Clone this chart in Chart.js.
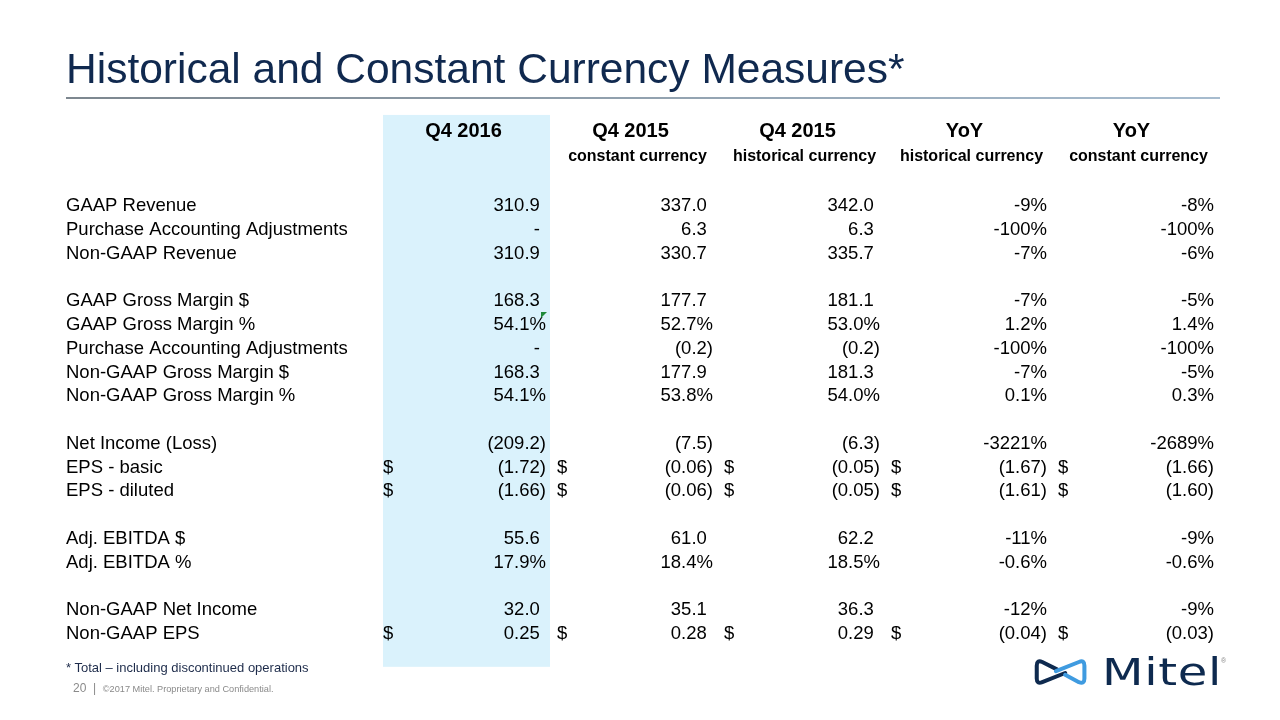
<!DOCTYPE html>
<html><head><meta charset="utf-8">
<script src="https://cdn.jsdelivr.net/npm/chart.js"></script>
<style>
html,body{margin:0;padding:0;background:#fff;width:1280px;height:720px;overflow:hidden;font-family:"Liberation Sans",Arial,sans-serif;}
#c{position:absolute;left:0;top:0;width:1280px;height:720px;}
#title{position:absolute;left:66px;top:48px;font-size:42.5px;line-height:1;color:#10294f;white-space:nowrap;}
#rule{position:absolute;left:66px;top:97px;width:1154px;height:2px;background:linear-gradient(to right,#7d878f,#a7bccf);}
#foot{position:absolute;left:66px;top:661px;font-size:13px;line-height:1;color:#1d2b4a;white-space:nowrap;}
#page{position:absolute;left:73px;top:682px;font-size:12px;line-height:1;color:#8a8a8a;white-space:nowrap;}
#page span{font-size:9.2px;}
#logotext{position:absolute;left:1102px;top:654px;font-family:"DejaVu Sans",sans-serif;font-size:37px;line-height:1;color:#0e2a4f;letter-spacing:0.5px;white-space:nowrap;transform:scaleX(1.3);transform-origin:0 0;}
#reg{position:absolute;left:1221px;top:657px;font-size:7px;line-height:1;color:#888;}
</style></head>
<body>
<canvas id="c" width="1280" height="720"></canvas>
<div id="title">Historical and Constant Currency Measures*</div>
<div id="rule"></div>
<div id="foot">* Total – including discontinued operations</div>
<div id="page">20 &nbsp;|&nbsp; <span>©2017 Mitel. Proprietary and Confidential.</span></div>
<svg viewBox="0 0 60 30" style="left:1034px;top:659px;width:55px;height:28px;position:absolute">
  <path d="M 25 11 L 9 3 Q 3 0.5 3 7 L 3 21 Q 3 27.5 9 25 L 34 15" fill="none" stroke="#0e2a4f" stroke-width="4.4" stroke-linecap="round" stroke-linejoin="round"/>
  <path d="M 34 17 L 49 25 Q 55 27.5 55 21 L 55 7 Q 55 0.5 49 3 L 24 13" fill="none" stroke="#3f9be0" stroke-width="4.4" stroke-linecap="round" stroke-linejoin="round"/>
</svg>
<div id="logotext">Mitel</div>
<div id="reg">®</div>
<script>
// ---- data ----
const rowLabels = [
  'GAAP Revenue','Purchase Accounting Adjustments','Non-GAAP Revenue','',
  'GAAP Gross Margin $','GAAP Gross Margin %','Purchase Accounting Adjustments','Non-GAAP Gross Margin $','Non-GAAP Gross Margin %','',
  'Net Income (Loss)','EPS - basic','EPS - diluted','',
  'Adj. EBITDA $','Adj. EBITDA %','',
  'Non-GAAP Net Income','Non-GAAP EPS'
];
const colHeads = ['Q4 2016','Q4 2015','Q4 2015','YoY','YoY'];
const colSubs  = ['','constant currency','historical currency','historical currency','constant currency'];
const q4_2016     = ['310.9','-','310.9','','168.3','54.1%','-','168.3','54.1%','','(209.2)','(1.72)','(1.66)','','55.6','17.9%','','32.0','0.25'];
const q4_2015_cc  = ['337.0','6.3','330.7','','177.7','52.7%','(0.2)','177.9','53.8%','','(7.5)','(0.06)','(0.06)','','61.0','18.4%','','35.1','0.28'];
const q4_2015_hc  = ['342.0','6.3','335.7','','181.1','53.0%','(0.2)','181.3','54.0%','','(6.3)','(0.05)','(0.05)','','62.2','18.5%','','36.3','0.29'];
const yoy_hc      = ['-9%','-100%','-7%','','-7%','1.2%','-100%','-7%','0.1%','','-3221%','(1.67)','(1.61)','','-11%','-0.6%','','-12%','(0.04)'];
const yoy_cc      = ['-8%','-100%','-6%','','-5%','1.4%','-100%','-5%','0.3%','','-2689%','(1.66)','(1.60)','','-9%','-0.6%','','-9%','(0.03)'];
const dollarRows  = ['EPS - basic','EPS - diluted','Non-GAAP EPS'];
const columns = [q4_2016, q4_2015_cc, q4_2015_hc, yoy_hc, yoy_cc];

const FONT = '"Liberation Sans", Arial, sans-serif';

const datasets = columns.map((col, ci) => ({
  label: colHeads[ci] + ' ' + colSubs[ci],
  data: col.map((v, ri) => v === '' ? null : {x: ci, y: ri, v: v}).filter(d => d),
  showLine: false, pointRadius: 0, pointHoverRadius: 0
}));

const tablePlugin = {
  id: 'tablePlugin',
  beforeDraw(chart) {
    const {ctx, scales: {x, y}} = chart;
    ctx.save();
    ctx.fillStyle = '#daf2fc';
    const x0 = x.getPixelForValue(-0.5), x1 = x.getPixelForValue(0.5);
    const y0 = y.getPixelForValue(-3.83), y1 = y.getPixelForValue(19.38);
    ctx.fillRect(x0, y0, x1 - x0, y1 - y0);
    ctx.restore();
  },
  afterDraw(chart) {
    const {ctx, scales: {x, y}} = chart;
    const half = (x.getPixelForValue(1) - x.getPixelForValue(0)) / 2;
    ctx.save();
    ctx.fillStyle = '#000';
    ctx.textAlign = 'center';
    ctx.textBaseline = 'middle';
    colHeads.forEach((h, ci) => {
      const cx = x.getPixelForValue(ci);
      ctx.font = 'bold 20px ' + FONT;
      ctx.fillText(h, cx - 3, y.getPixelForValue(-3.13));
      if (colSubs[ci]) {
        ctx.font = 'bold 16px ' + FONT;
        ctx.fillText(colSubs[ci], cx + 4, y.getPixelForValue(-2.09));
      }
    });
    ctx.font = '18.5px ' + FONT;
    const parW = ctx.measureText(')').width;
    chart.data.datasets.forEach((ds, di) => {
      const meta = chart.getDatasetMeta(di);
      meta.data.forEach((pt, j) => {
        const raw = ds.data[j];
        const right = pt.x + half - 4;
        const last = raw.v.slice(-1);
        const pad = (last === ')' || last === '%') ? 0 : parW;
        ctx.textAlign = 'right';
        ctx.fillText(raw.v, right - pad, pt.y);
        if (dollarRows.includes(rowLabels[raw.y])) {
          ctx.textAlign = 'left';
          ctx.fillText('$', di === 0 ? pt.x - half : pt.x - half + 7, pt.y);
        }
      });
    });
    const gx = x.getPixelForValue(0) + half - 9, gy = y.getPixelForValue(5) - 13;
    ctx.fillStyle = '#1e8a3a';
    ctx.beginPath();
    ctx.moveTo(gx, gy); ctx.lineTo(gx + 6, gy); ctx.lineTo(gx, gy + 6); ctx.closePath();
    ctx.fill();
    ctx.restore();
  }
};

new Chart(document.getElementById('c'), {
  type: 'line',
  data: { datasets },
  plugins: [tablePlugin],
  options: {
    responsive: false,
    animation: false,
    devicePixelRatio: 1,
    layout: { padding: { left: 66, right: 62, top: 206, bottom: 86 } },
    plugins: { legend: { display: false }, tooltip: { enabled: false } },
    events: [],
    scales: {
      x: { type: 'linear', min: -0.5, max: 4.5, display: false },
      y: {
        type: 'linear', reverse: true, min: 0, max: 18, position: 'left',
        grid: { display: false }, border: { display: false },
        ticks: {
          stepSize: 1, autoSkip: false, maxTicksLimit: 100, crossAlign: 'far', padding: 0,
          color: '#000', font: { family: FONT, size: 18.5 },
          callback: (v) => rowLabels[v] !== undefined ? rowLabels[v] : ''
        },
        afterFit: (s) => { s.width = 317; }
      }
    }
  }
});
</script>
</body></html>
